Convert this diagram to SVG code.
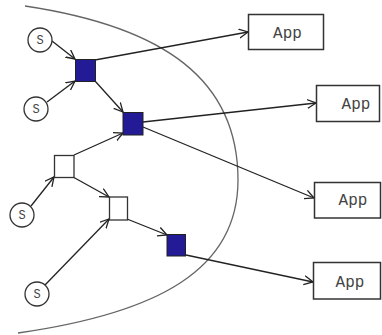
<svg xmlns="http://www.w3.org/2000/svg" width="382" height="335" viewBox="0 0 382 335">
<style>
.src{fill:#fff;stroke:#333;stroke-width:1.3}
.stxt{font-size:12px;fill:#444;text-anchor:middle}
.blue{fill:#231a96;stroke:#222;stroke-width:1}
.white{fill:#fff;stroke:#333;stroke-width:1.3}
.app{fill:#fff;stroke:#333;stroke-width:1.5}
.atxt{font-size:16px;fill:#444;text-anchor:middle}
.edge{stroke:#222;stroke-width:1.3;fill:none;marker-end:url(#arr)}
</style>
<defs>
<marker id="arr" markerUnits="userSpaceOnUse" markerWidth="12" markerHeight="12" refX="9" refY="5" orient="auto">
<path d="M0,0.5 L9,5 L0,9.5" fill="none" stroke="#222" stroke-width="1.3"/>
</marker>
</defs>
<path d="M25,6 C165,27 238,80 238,180 C238,270 158,313 18,333" fill="none" stroke="#666" stroke-width="1.3"/>
<g id="connectors">
<line class="edge" x1="52" y1="41" x2="75" y2="59"/>
<line class="edge" x1="47" y1="102" x2="75" y2="81"/>
<line class="edge" x1="95" y1="81" x2="123" y2="112"/>
<line class="edge" x1="74" y1="155" x2="123" y2="133"/>
<line class="edge" x1="31" y1="206" x2="54" y2="177"/>
<line class="edge" x1="73" y1="177" x2="109" y2="197"/>
<line class="edge" x1="45" y1="285" x2="109" y2="219"/>
<line class="edge" x1="127" y1="219" x2="167" y2="235"/>
<line class="edge" x1="95" y1="60" x2="248" y2="32"/>
<line class="edge" x1="143" y1="122" x2="316" y2="103"/>
<line class="edge" x1="143" y1="127" x2="314" y2="198"/>
<line class="edge" x1="186" y1="255" x2="313" y2="282"/>
</g>
<g font-family="Liberation Mono, monospace">
<g id="s1"><circle class="src" cx="40" cy="40" r="12"/><text class="stxt" x="40" y="44">S</text></g>
<g id="s2"><circle class="src" cx="36" cy="109" r="12"/><text class="stxt" x="36" y="113">S</text></g>
<g id="s3"><circle class="src" cx="22" cy="215" r="12"/><text class="stxt" x="22" y="219">S</text></g>
<g id="s4"><circle class="src" cx="37" cy="294" r="12"/><text class="stxt" x="37" y="298">S</text></g>
<g id="b1"><rect class="blue" x="75.5" y="59.5" width="20" height="22"/></g>
<g id="b2"><rect class="blue" x="123" y="112.5" width="20" height="22.5"/></g>
<g id="w1"><rect class="white" x="54.5" y="155.5" width="19.5" height="22"/></g>
<g id="w2"><rect class="white" x="109.5" y="197" width="18" height="23"/></g>
<g id="b3"><rect class="blue" x="167" y="234.5" width="18.5" height="21.5"/></g>
<g id="app1"><rect class="app" x="248.5" y="14.5" width="75" height="35"/><text class="atxt" x="287.5" y="38">App</text></g>
<g id="app2"><rect class="app" x="316.5" y="85.5" width="63" height="36"/><text class="atxt" x="356" y="109">App</text></g>
<g id="app3"><rect class="app" x="314.5" y="182.5" width="66" height="35.5"/><text class="atxt" x="353" y="205">App</text></g>
<g id="app4"><rect class="app" x="313.5" y="262.5" width="67" height="36.5"/><text class="atxt" x="350" y="287">App</text></g>
</g>
</svg>
